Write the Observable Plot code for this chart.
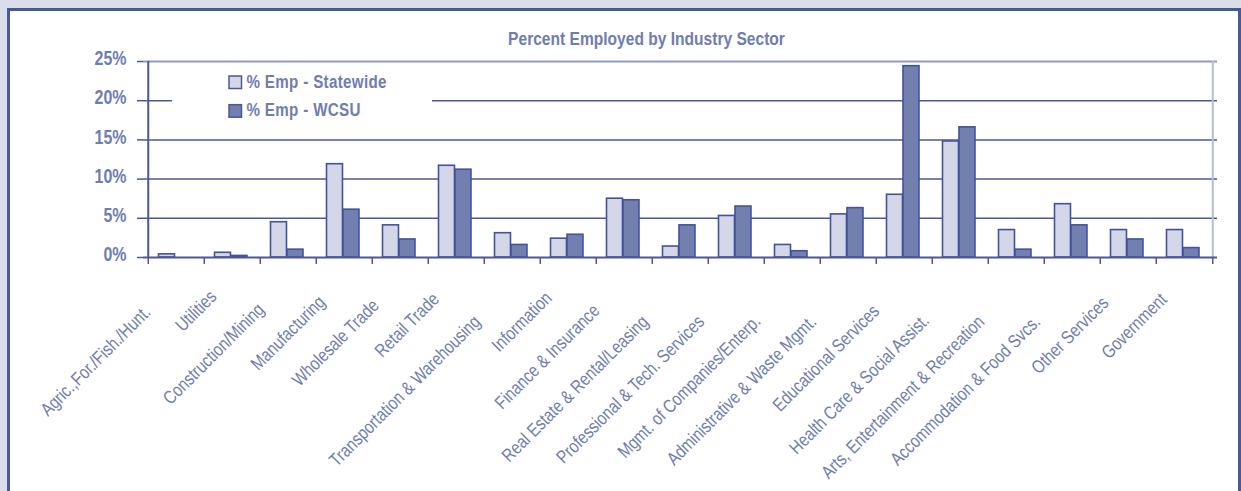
<!DOCTYPE html>
<html>
<head>
<meta charset="utf-8">
<script src="https://cdn.jsdelivr.net/npm/d3@7"></script>
<script src="https://cdn.jsdelivr.net/npm/@observablehq/plot@0.6"></script>
<style>
  html, body { margin: 0; padding: 0; }
  body { width: 1241px; height: 491px; overflow: hidden; position: relative; background: #d9deea; font-family: "Liberation Sans", Arial, sans-serif; }
  #panel { position: absolute; left: 7px; top: 8px; width: 1228px; height: 600px; border: 3px solid #4a5897; background: #ffffff; }
  #chart { position: absolute; left: 0; top: 0; }
</style>
</head>
<body>
<div id="panel"></div>
<div id="chart"></div>
<script>
// ---- data ----
const categories = [
  "Agric.,For./Fish./Hunt.", "Utilities", "Construction/Mining", "Manufacturing",
  "Wholesale Trade", "Retail Trade", "Transportation & Warehousing", "Information",
  "Finance & Insurance", "Real Estate & Rental/Leasing", "Professional & Tech. Services",
  "Mgmt. of Companies/Enterp.", "Administrative & Waste Mgmt.", "Educational Services",
  "Health Care & Social Assist.", "Arts, Entertainment & Recreation",
  "Accommodation & Food Svcs.", "Other Services", "Government"
];
const statewide = [0.4, 0.6, 4.5, 11.9, 4.1, 11.7, 3.1, 2.4, 7.5, 1.4, 5.3, 1.6, 5.5, 8.0, 14.8, 3.5, 6.8, 3.5, 3.5];
const wcsu      = [0.0, 0.2, 1.0, 6.1, 2.3, 11.2, 1.6, 2.9, 7.3, 4.1, 6.5, 0.8, 6.3, 24.4, 16.6, 1.0, 4.1, 2.3, 1.2];
const seriesNames = ["% Emp - Statewide", "% Emp - WCSU"];
const yTicks = [0, 5, 10, 15, 20, 25];
const titleText = "Percent Employed by Industry Sector";

// ---- style ----
const W = 1241, H = 491;
const mL = 143, mR = 24, mT = 61, mB = H - 257;
const SX = 0.82; // narrow-font emulation
const textColor = "#6f7db1";
const lineColor = "#4a5897";
const barStroke = "#43529a";
const fills = ["#d4d7e7", "#7280b0"];
const bw = (W - mL - mR) / categories.length;

const rows = (vals, s) => categories.map((c, i) => ({cat: c, series: s, v: vals[i]})).filter(d => d.v > 0);

const plot = Plot.plot({
  width: W, height: H,
  marginLeft: mL, marginRight: mR, marginTop: mT, marginBottom: mB,
  style: {background: "transparent", color: textColor, fontFamily: "'Liberation Sans', Arial, sans-serif", overflow: "visible"},
  x: {domain: categories, padding: 0},
  y: {domain: [0, 25]},
  marks: [
    Plot.ruleY(yTicks.filter(t => t > 0 && t < 25), {stroke: lineColor, strokeWidth: 1.5}),
    Plot.ruleY([25], {stroke: "#8f9bc3", strokeWidth: 2}),
    Plot.ruleX(categories.slice(-1), {x: d => d, dx: bw / 2, stroke: "#b4bcd9", strokeWidth: 2}),
    Plot.barY(rows(statewide, seriesNames[0]), {x: "cat", y: "v", fill: fills[0], stroke: barStroke, strokeWidth: 1.6, insetLeft: 10.5, insetRight: bw - 27}),
    Plot.barY(rows(wcsu, seriesNames[1]), {x: "cat", y: "v", fill: fills[1], stroke: barStroke, strokeWidth: 1.6, insetLeft: 27, insetRight: bw - 43.5}),
    Plot.ruleY([0], {stroke: lineColor, strokeWidth: 2}),
    Plot.ruleX(categories.slice(0, 1), {x: d => d, dx: -bw / 2, stroke: lineColor, strokeWidth: 2}),
    Plot.ruleX(categories, {x: d => d, dx: -bw / 2, y1: 0, y2: -0.9, stroke: lineColor, strokeWidth: 1.5}),
    Plot.ruleX(categories.slice(-1), {x: d => d, dx: bw / 2, y1: 0, y2: -0.9, stroke: lineColor, strokeWidth: 1.5}),
    Plot.axisY({ticks: yTicks, tickFormat: d => d + "%", label: null, tickSize: 6, tickPadding: 11, fontSize: 19.5, fontWeight: "bold", stroke: lineColor, strokeWidth: 1.5, fill: textColor}),
    Plot.axisX({tickSize: 0, tickRotate: -45, label: null, fontSize: 18.5, fill: textColor})
  ]
});
document.getElementById("chart").appendChild(plot);

const svg = d3.select(plot);

// y tick labels: narrow, nudged up slightly
svg.selectAll('g[aria-label="y-axis tick label"] text').each(function() {
  const t = this.getAttribute("transform") || "";
  this.setAttribute("transform", t + ` translate(0,-2.5) scale(${SX},1)`);
  this.setAttribute("font-weight", "bold");
});

// x tick labels: Excel-like placement
const xs = plot.scale("x");
svg.selectAll('g[aria-label="x-axis tick label"]').attr("transform", null);
svg.selectAll('g[aria-label="x-axis tick label"] text').each(function() {
  const name = this.textContent;
  const cx = xs.apply(name) + xs.bandwidth / 2;
  const L = this.getComputedTextLength() * SX;
  const yc = 297 + Math.max(0, Math.min(25, (L - 70) * 0.2));
  const xc = cx - 16 - (yc - 298) * 0.65;
  this.removeAttribute("dy"); this.removeAttribute("x"); this.removeAttribute("y");
  this.setAttribute("text-anchor", "end");
  this.setAttribute("transform", `translate(${xc + 1},${yc + 1}) rotate(-45) scale(${SX},1)`);
});

// title
svg.append("text")
  .attr("transform", `translate(646.5,45) scale(${SX},1)`)
  .attr("text-anchor", "middle")
  .attr("font-size", 19)
  .attr("font-weight", "bold")
  .attr("fill", textColor)
  .text(titleText);

// legend
const lg = svg.append("g");
lg.append("rect").attr("x", 172).attr("y", 64).attr("width", 260).attr("height", 60).attr("fill", "#ffffff");
seriesNames.forEach((s, i) => {
  const y0 = 76 + i * 28.7;
  lg.append("rect").attr("x", 229).attr("y", y0).attr("width", 12.5).attr("height", 12.5)
    .attr("fill", fills[i]).attr("stroke", lineColor).attr("stroke-width", 1.5);
  lg.append("text")
    .attr("transform", `translate(246.5,${y0 + 11.5}) scale(${SX},1)`)
    .attr("text-anchor", "start")
    .attr("font-size", 18.5).attr("font-weight", "bold").attr("fill", textColor)
    .attr("letter-spacing", 0.4)
    .text(s);
});
</script>
</body>
</html>
